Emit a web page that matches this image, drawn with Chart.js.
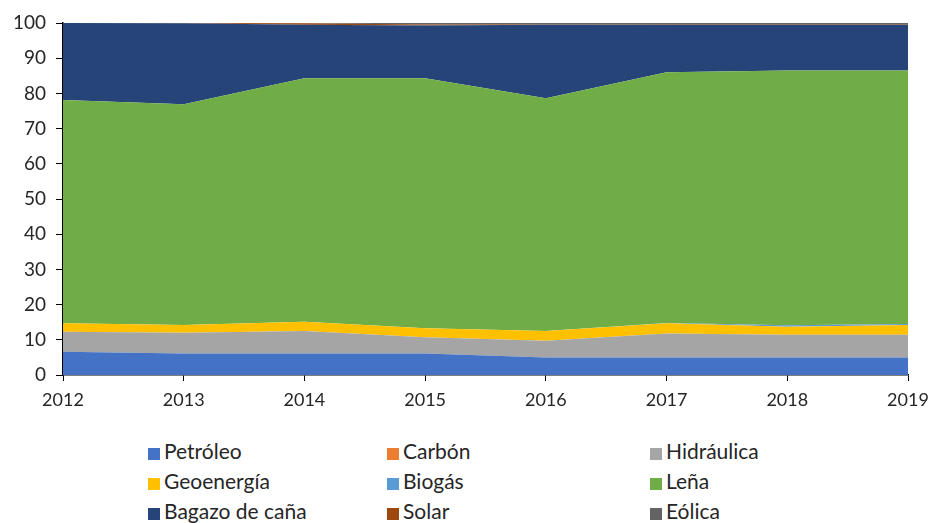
<!DOCTYPE html>
<html>
<head>
<meta charset="utf-8">
<script src="https://cdn.jsdelivr.net/npm/chart.js@4"></script>
<style>
  body { margin: 0; background: #fff; font-family: Lato, "Noto Sans", sans-serif; }
  #wrap { position: relative; width: 932px; height: 523px; }
  #grafico { position: absolute; left: 0; top: 0; }
  .leyenda { position: absolute; font-size: 21px; color: #262626; line-height: 24px; white-space: nowrap; }
  .leyenda span { display: inline-block; width: 12px; height: 12px; margin-right: 4px; vertical-align: -1px; }
</style>
</head>
<body>
<div id="wrap">
  <canvas id="grafico" width="932" height="430"></canvas>
</div>
<script>
// Datos (participación %)
const anios = ['2012', '2013', '2014', '2015', '2016', '2017', '2018', '2019'];
const petroleo   = [6.6, 6.1, 6.1, 6.1, 5.0, 5.0, 5.0, 5.0];
const carbon     = [0, 0, 0, 0, 0, 0, 0, 0];
const hidraulica = [5.7, 5.9, 6.4, 4.6, 4.7, 6.8, 6.4, 6.4];
const geoenergia = [2.4, 2.2, 2.6, 2.6, 2.8, 2.9, 2.3, 2.8];
const biogas     = [0, 0, 0, 0, 0, 0.1, 0.4, 0.3];
const lena       = [63.4, 62.7, 69.2, 71.0, 66.1, 71.2, 72.4, 72.0];
const bagazo     = [21.9, 23.0, 15.2, 15.0, 20.9, 13.4, 12.9, 12.9];
const solar      = [0, 0.1, 0.4, 0.3, 0.1, 0.1, 0.1, 0.1];
const eolica     = [0, 0, 0.1, 0.4, 0.4, 0.5, 0.5, 0.5];
const ticksY = [0, 10, 20, 30, 40, 50, 60, 70, 80, 90, 100];

const series = [
    { nombre: 'Petróleo', datos: petroleo, color: '#4472C4' },
    { nombre: 'Carbón', datos: carbon, color: '#ED7D31' },
    { nombre: 'Hidráulica', datos: hidraulica, color: '#A5A5A5' },
    { nombre: 'Geoenergía', datos: geoenergia, color: '#FFC000' },
    { nombre: 'Biogás', datos: biogas, color: '#5B9BD5' },
    { nombre: 'Leña', datos: lena, color: '#70AD47' },
    { nombre: 'Bagazo de caña', datos: bagazo, color: '#264478' },
    { nombre: 'Solar', datos: solar, color: '#9E480E' },
    { nombre: 'Eólica', datos: eolica, color: '#636363' }
];

const izquierda = 63, abajo = 375, alto = 430;

new Chart(document.getElementById('grafico'), {
    type: 'line',
    data: {
        labels: anios,
        datasets: series.map((s, i) => ({
            label: s.nombre,
            data: s.datos,
            backgroundColor: s.color,
            borderWidth: 0,
            pointRadius: 0,
            tension: 0,
            fill: i === 0 ? 'origin' : '-1'
        }))
    },
    options: {
        responsive: false,
        animation: false,
        layout: { padding: { top: 23, right: 24, left: 0, bottom: 0 } },
        plugins: { legend: { display: false }, tooltip: { enabled: false } },
        scales: {
            x: {
                offset: false,
                border: { color: '#000', width: 1.5 },
                grid: { drawOnChartArea: false, drawTicks: true, tickLength: 6, color: '#000' },
                ticks: { color: '#262626', font: { family: 'Lato', size: 18 }, padding: 8, maxRotation: 0 },
                afterFit: scale => {
                    scale.height = alto - abajo;
                    scale.paddingRight = 0;
                    scale.paddingLeft = 0;
                }
            },
            y: {
                stacked: true,
                min: 0,
                max: 100,
                afterBuildTicks: scale => { scale.ticks = ticksY.map(v => ({ value: v })); },
                border: { color: '#000', width: 1.5 },
                grid: { drawOnChartArea: false, drawTicks: true, tickLength: 7, color: '#000' },
                ticks: { color: '#262626', font: { family: 'Lato', size: 19 }, padding: 10 },
                afterFit: scale => { scale.width = izquierda; }
            }
        }
    }
});

// Leyenda en tres columnas
const wrap = document.getElementById('wrap');
const columnas = [148, 387, 650];
const filas = [439, 469, 499];
series.forEach((s, i) => {
    const div = document.createElement('div');
    div.className = 'leyenda';
    div.style.left = columnas[i % 3] + 'px';
    div.style.top = filas[Math.floor(i / 3)] + 'px';
    div.innerHTML = `<span style="background:${s.color}"></span>${s.nombre}`;
    wrap.appendChild(div);
});
</script>
</body>
</html>
